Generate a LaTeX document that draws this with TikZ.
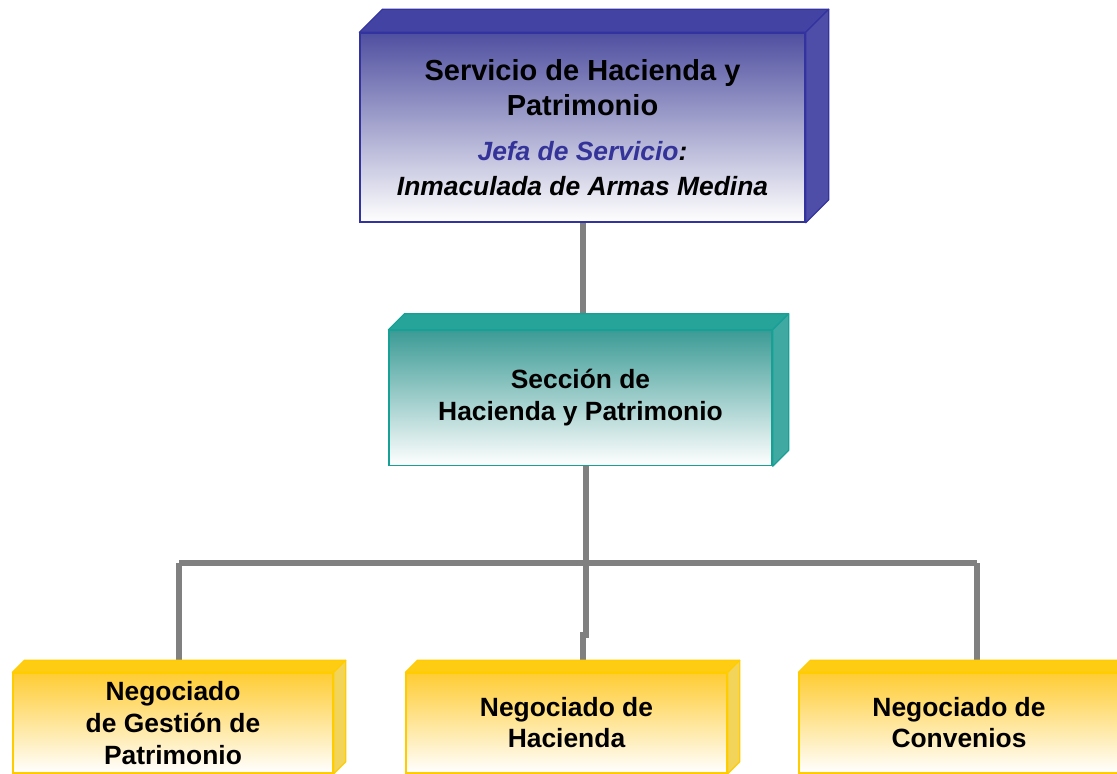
\documentclass[tikz,border=0pt]{standalone}
\usepackage{fontspec}
\setmainfont{Liberation Sans}
\usetikzlibrary{backgrounds}
\definecolor{bluedk}{HTML}{3333A0}
\definecolor{bluetop}{HTML}{4343A3}
\definecolor{blueside}{HTML}{4E4EA8}
\definecolor{bluefront}{HTML}{4F4FA0}
\definecolor{jefablue}{HTML}{333399}
\definecolor{tealdk}{HTML}{17A096}
\definecolor{tealtop}{HTML}{26A499}
\definecolor{tealside}{HTML}{40AAA2}
\definecolor{tealfront}{HTML}{3C9B96}
\definecolor{yeldk}{HTML}{FFCC00}
\definecolor{yeltop}{HTML}{FFCC14}
\definecolor{yelside}{HTML}{F2D45A}
\definecolor{yelfront}{HTML}{FFCC33}
\definecolor{conngray}{HTML}{808080}
\newcommand\cubefaces[5]{%
  \filldraw[fill=#3,draw=#5,line width=1.2pt,line join=round]
    (#1.north west) -- ++(#2,-#2) -- ([shift={(#2,-#2)}]#1.north east) -- (#1.north east) -- cycle;
  \filldraw[fill=#4,draw=#5,line width=1.2pt,line join=round]
    (#1.north east) -- ++(#2,-#2) -- ([shift={(#2,-#2)}]#1.south east) -- (#1.south east) -- cycle;
}
\begin{document}
\begin{tikzpicture}[x=1pt,y=-1pt,
  frontbox/.style={draw,line width=1.4pt,align=center,inner sep=0pt,bottom color=white},
  conn/.style={draw=conngray,line width=5.5pt}]
\useasboundingbox (0,0) rectangle (1117,774);
\clip (0,0) rectangle (1117,774);

% front faces
\node[frontbox,draw=bluedk,top color=bluefront,minimum width=445pt,minimum height=189pt,
      font=\fontsize{26.4}{35.5}\selectfont\bfseries] (serv) at (582.5,127.5)
  {{\fontsize{29}{35}\selectfont Servicio de Hacienda y}\\
   {\fontsize{29}{35}\selectfont Patrimonio}\\[9pt]
   {\itshape{\color{jefablue}Jefa de Servicio}:}\\
   {\itshape Inmaculada de Armas Medina}};
\node[frontbox,draw=tealdk,top color=tealfront,minimum width=383pt,minimum height=135pt,font=\fontsize{26.4}{32}\selectfont\bfseries] (secc) at (580.5,398)
  {Secci\'on de\\Hacienda y Patrimonio};
\node[frontbox,draw=yeldk,top color=yelfront,minimum width=320pt,minimum height=100pt,font=\fontsize{26.4}{32}\selectfont\bfseries] (ng1) at (173,723)
  {Negociado\\de Gesti\'on de\\Patrimonio};
\node[frontbox,draw=yeldk,top color=yelfront,minimum width=321pt,minimum height=100pt,font=\fontsize{26.4}{31}\selectfont\bfseries] (ng2) at (566.5,723)
  {Negociado de\\Hacienda};
\node[frontbox,draw=yeldk,top color=yelfront,minimum width=320pt,minimum height=100pt,font=\fontsize{26.4}{31}\selectfont\bfseries] (ng3) at (959,723)
  {Negociado de\\Convenios};

% top and side faces
\cubefaces{serv}{23}{bluetop}{blueside}{bluedk}
\cubefaces{secc}{16}{tealtop}{tealside}{tealdk}
\cubefaces{ng1}{12}{yeltop}{yelside}{yeldk}
\cubefaces{ng2}{12}{yeltop}{yelside}{yeldk}
\cubefaces{ng3}{12}{yeltop}{yelside}{yeldk}

% connectors
\coordinate (jt) at (583,300);
\coordinate (jm) at (586,563);
\coordinate (jl) at (179,563);
\coordinate (jr) at (977,563);
\coordinate (jk) at (586,635);
\begin{pgfonlayer}{background}
\fill[white] (0,0) rectangle (1117,774);
\draw[conn] (jt |- serv.south) -- (jt |- secc.north);
\draw[conn] (jm |- secc.south) -- (jm);
\draw[conn] (jl) -- (jr);
\draw[conn] (jl) -- (jl |- ng1.north);
\draw[conn] (jr) -- (jr |- ng3.north);
\draw[conn] (jm) -- (jk) -- ++(-3,0) -- ([xshift=-3pt]jk |- ng2.north);
\end{pgfonlayer}
\end{tikzpicture}
\end{document}
